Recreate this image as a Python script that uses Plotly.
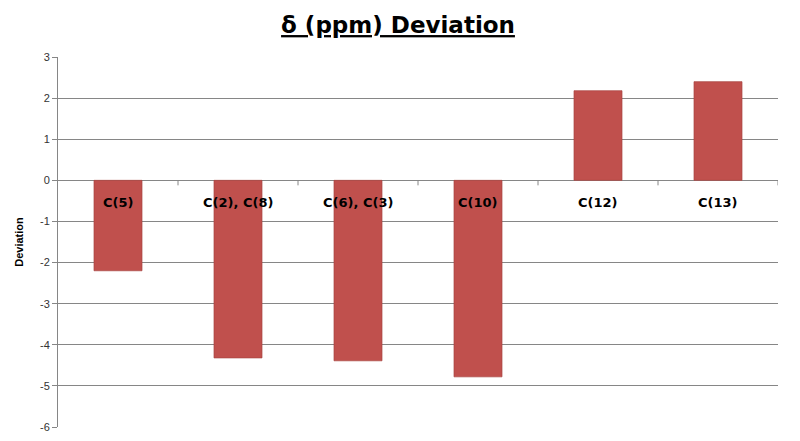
import plotly.graph_objects as go

categories = ["C(5)", "C(2), C(8)", "C(6), C(3)", "C(10)", "C(12)", "C(13)"]
deviation = [-2.2, -4.32, -4.39, -4.78, 2.18, 2.4]
y_ticks = [3, 2, 1, 0, -1, -2, -3, -4, -5, -6]

x_idx = list(range(len(categories)))

fig = go.Figure()
fig.add_trace(go.Bar(
    x=x_idx, y=deviation, width=0.4,
    marker=dict(color="#C0504D", line=dict(color="#A84440", width=0.7)),
    hoverinfo="skip",
))

# category labels just below the zero line (Excel-style axis crossing at 0)
for i, c in enumerate(categories):
    fig.add_annotation(x=i, y=0, text="<b>" + c + "</b>", showarrow=False,
                       yanchor="top", yshift=-13,
                       font=dict(family="DejaVu Sans, Verdana", size=13, color="black"))

# tick marks on the zero-line axis at category boundaries
for b in range(1, len(categories) + 1):
    fig.add_shape(type="line", xref="x", yref="y", x0=b - 0.5, x1=b - 0.5,
                  ysizemode="pixel", yanchor=0, y0=0, y1=-5,
                  line=dict(color="#868686", width=1))

fig.update_layout(
    width=800, height=441,
    margin=dict(l=50, r=30, t=49, b=22, autoexpand=False),
    paper_bgcolor="white", plot_bgcolor="white",
    showlegend=False,
    title=dict(text="<b><u>δ (ppm) Deviation</u></b>", x=0.4875, xanchor="center",
               y=1 - 17 / 441, yanchor="middle",
               font=dict(family="DejaVu Sans, Verdana", size=23, color="black")),
    xaxis=dict(range=[-0.5, len(categories) - 0.5], showticklabels=False,
               showgrid=False, zeroline=False, showline=False, ticks="",
               automargin=False),
    yaxis=dict(range=[-6, 3], tickvals=y_ticks, ticktext=[str(v) for v in y_ticks],
               automargin=False,
               showgrid=True, gridcolor="#868686", gridwidth=1,
               zeroline=True, zerolinecolor="#868686", zerolinewidth=1,
               showline=True, linecolor="#868686", linewidth=1,
               ticks="outside", ticklen=5, tickcolor="#868686",
               tickfont=dict(family="Liberation Sans, Arial", size=11, color="#333333"),
               title=dict(text="<b>Deviation</b>", standoff=14,
                          font=dict(family="Liberation Sans, Arial", size=11, color="black"))),
)

fig.write_html("out.html")
